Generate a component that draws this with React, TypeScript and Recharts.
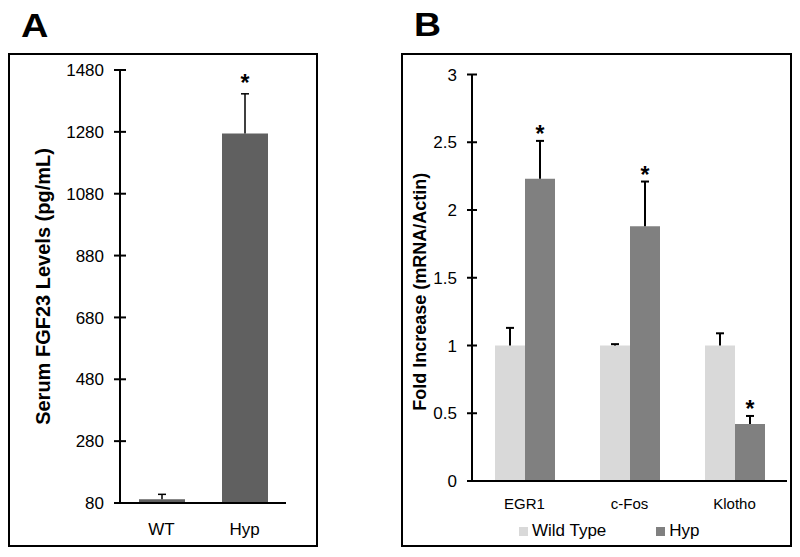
import React from 'react'
import { BarChart, Bar, XAxis, YAxis, Legend } from 'recharts'

// Panel A - serum FGF23
const groupsA = ['WT', 'Hyp']
const serumA = [92, 1275]
const serumErrA = [16, 128]
const starsA = ['', '*']
const ticksA = [80, 280, 480, 680, 880, 1080, 1280, 1480]

// Panel B - fold increase
const genesB = ['EGR1', 'c-Fos', 'Klotho']
const seriesNamesB = ['Wild Type', 'Hyp']
const wildTypeB = [1, 1, 1]
const wildTypeErrB = [0.13, 0.01, 0.09]
const hypB = [2.23, 1.88, 0.42]
const hypErrB = [0.28, 0.33, 0.06]
const hypStarsB = ['*', '*', '*']
const ticksB = [0, 0.5, 1, 1.5, 2, 2.5, 3]

const FONT = '"Liberation Sans", Arial, Helvetica, sans-serif'

const dataA = groupsA.map((group, i) => ({
  group,
  serum: serumA[i],
  err: serumErrA[i],
  star: starsA[i],
}))

const dataB = genesB.map((gene, i) => ({
  gene,
  wt: wildTypeB[i],
  wtErr: wildTypeErrB[i],
  wtStar: '',
  hyp: hypB[i],
  hypErr: hypErrB[i],
  hypStar: hypStarsB[i],
}))

// y tick that crosses the axis line
const crossTick = (half: number, gap: number, size: number) => (props: any) => {
  const { x, y, payload } = props
  return (
    <g>
      <line x1={x - half} x2={x + half} y1={y} y2={y} stroke="#000" strokeWidth={2} />
      <text x={x - gap} y={y} dy="0.36em" textAnchor="end" fontSize={size} fill="#000" fontFamily={FONT}>
        {payload.value}
      </text>
    </g>
  )
}

// upward-only error whisker drawn over the span of its (invisible) bar, plus the asterisk
const errorShape = (starKey: string, cap: number, sw: number, starDy: number) => (props: any) => {
  const { x, y, width, height, payload } = props
  const cx = x + width / 2
  const star = payload ? payload[starKey] : ''
  return (
    <g>
      <line x1={cx} x2={cx} y1={y + height} y2={y} stroke="#000" strokeWidth={sw} />
      <line x1={cx - cap} x2={cx + cap} y1={y} y2={y} stroke="#000" strokeWidth={sw} />
      {star ? (
        <text x={cx} y={y + starDy} textAnchor="middle" fontSize={23} fontWeight="bold" fill="#000" fontFamily={FONT}>
          {star}
        </text>
      ) : null}
    </g>
  )
}

const axisTitle = (text: string, dx: number, dy: number, size: number) => (props: any) => {
  const vb = props.viewBox || { x: 0, y: 0, width: 0, height: 0 }
  const cx = vb.x + dx
  const cy = vb.y + vb.height / 2 + dy
  return (
    <text
      x={cx}
      y={cy}
      textAnchor="middle"
      dominantBaseline="central"
      transform={`rotate(-90 ${cx} ${cy})`}
      fontSize={size}
      fontWeight="bold"
      fill="#000"
      fontFamily={FONT}
    >
      {text}
    </text>
  )
}

const renderLegend = (props: any) => {
  const items = (props.payload || [])
    .filter((item: any) => item.type !== 'none' && seriesNamesB.includes(item.value))
    .sort((a: any, b: any) => seriesNamesB.indexOf(a.value) - seriesNamesB.indexOf(b.value))
  return (
    <div style={{ display: 'flex', alignItems: 'center', whiteSpace: 'nowrap', fontFamily: FONT, fontSize: 17, lineHeight: '20px', color: '#000' }}>
      {items.map((item: any, i: number) => (
        <div key={item.value} style={{ display: 'flex', alignItems: 'center', marginRight: i === 0 ? 50 : 0 }}>
          <span style={{ display: 'inline-block', width: 9, height: 9, background: item.color, marginRight: 4 }} />
          <span>{item.value}</span>
        </div>
      ))}
    </div>
  )
}

const boxStyle = (left: number, top: number, width: number, height: number): React.CSSProperties => ({
  position: 'absolute',
  left,
  top,
  width,
  height,
  boxSizing: 'border-box',
  border: '2px solid #000',
  pointerEvents: 'none',
})

export default function App() {
  return (
    <div style={{ position: 'absolute', left: 0, top: 0, width: 800, height: 557, background: '#fff', fontFamily: FONT }}>
      <svg width={800} height={557} style={{ position: 'absolute', left: 0, top: 0 }}>
        <text transform="translate(21,37) scale(1.15,1)" fontSize={33} fontWeight="bold" fontFamily={FONT} fill="#000">A</text>
        <text transform="translate(414,36) scale(1.1,1)" fontSize={34} fontWeight="bold" fontFamily={FONT} fill="#000">B</text>
      </svg>

      {/* Panel A */}
      <div style={{ position: 'absolute', left: 8, top: 53 }}>
        <BarChart width={310} height={494} data={dataA} margin={{ top: 17, right: 32, left: 0, bottom: 4 }}>
          <XAxis
            dataKey="group"
            height={40}
            axisLine={{ stroke: '#000', strokeWidth: 2 }}
            tickLine={false}
            tickSize={0}
            tickMargin={20}
            tick={{ fontSize: 17, fill: '#000', fontFamily: FONT }}
          />
          <XAxis xAxisId="err" dataKey="group" hide />
          <YAxis
            width={112}
            domain={[80, 1480]}
            ticks={ticksA}
            interval={0}
            axisLine={{ stroke: '#000', strokeWidth: 2 }}
            tickLine={false}
            tickSize={0}
            tickMargin={0}
            tick={crossTick(6, 16, 17)}
            label={axisTitle('Serum FGF23 Levels (pg/mL)', 35, 0, 20)}
          />
          <Bar dataKey="serum" fill="#606060" barSize={46} isAnimationActive={false} />
          <Bar
            xAxisId="err"
            dataKey={(d: any) => [d.serum, d.serum + d.err]}
            barSize={46}
            fill="none"
            legendType="none"
            shape={errorShape('star', 4, 1.5, -3)}
            isAnimationActive={false}
          />
        </BarChart>
      </div>
      <div style={boxStyle(8, 53, 310, 494)} />

      {/* Panel B */}
      <div style={{ position: 'absolute', left: 401, top: 53 }}>
        <BarChart width={391} height={494} data={dataB} barGap={0} margin={{ top: 21.5, right: 5, left: 0, bottom: 36 }}>
          <XAxis
            dataKey="gene"
            height={30}
            axisLine={{ stroke: '#000', strokeWidth: 2 }}
            tickLine={false}
            tickSize={0}
            tickMargin={17}
            tick={{ fontSize: 15, fill: '#000', fontFamily: FONT }}
          />
          <YAxis
            width={71}
            domain={[0, 3]}
            ticks={ticksB}
            interval={0}
            axisLine={{ stroke: '#000', strokeWidth: 2 }}
            tickLine={false}
            tickSize={0}
            tickMargin={0}
            tick={crossTick(5, 15, 17)}
            label={axisTitle('Fold Increase (mRNA/Actin)', 19, 14, 18)}
          />
          <Legend
            verticalAlign="middle"
            align="center"
            layout="horizontal"
            content={renderLegend}
            wrapperStyle={{ left: 118, top: 468, width: 260 }}
          />
          <Bar dataKey="wt" name="Wild Type" stackId="wt" fill="#d9d9d9" barSize={30} isAnimationActive={false} />
          <Bar
            dataKey="wtErr"
            stackId="wt"
            barSize={30}
            fill="none"
            legendType="none"
            shape={errorShape('wtStar', 4, 2, 1)}
            isAnimationActive={false}
          />
          <Bar dataKey="hyp" name="Hyp" stackId="hyp" fill="#808080" barSize={30} isAnimationActive={false} />
          <Bar
            dataKey="hypErr"
            stackId="hyp"
            barSize={30}
            fill="none"
            legendType="none"
            shape={errorShape('hypStar', 4, 2, 1)}
            isAnimationActive={false}
          />
        </BarChart>
      </div>
      <div style={boxStyle(401, 53, 391, 494)} />
    </div>
  )
}
